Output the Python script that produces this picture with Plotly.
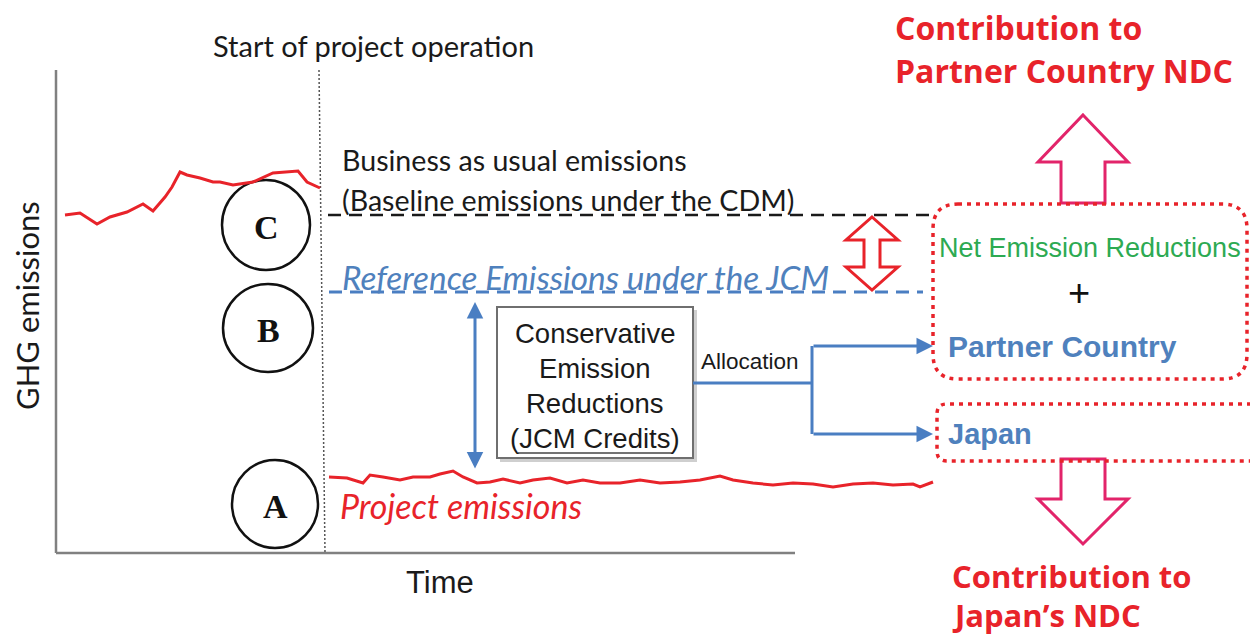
import plotly.graph_objects as go

# ---- data (diagram units = pixels of the 1250x636 canvas) ----
pre_x = [65, 80, 97, 110, 127, 143, 153, 165, 172, 180, 187, 200, 213, 220, 233, 253, 273, 298, 307, 320]
pre_y = [215, 213, 224, 217, 212, 204, 211, 197, 187, 172, 175, 178, 182, 182, 185, 182, 173, 171, 182, 188]

proj_x = [329, 347, 363, 370, 383, 400, 413, 430, 440, 453, 463, 477, 490, 503, 520, 533, 550, 567, 583, 600,
          620, 640, 660, 680, 700, 720, 733, 753, 773, 793, 813, 833, 853, 873, 893, 913, 920, 933]
proj_y = [477, 478, 483, 475, 477, 480, 477, 477, 474, 471, 477, 483, 482, 479, 483, 480, 478, 483, 480, 483,
          483, 480, 483, 482, 480, 476, 480, 483, 485, 483, 484, 487, 484, 483, 485, 484, 487, 482]

baseline_level = 215
reference_level = 292

box_lines = ["Conservative", "Emission", "Reductions", "(JCM Credits)"]
circle_labels = ["C", "B", "A"]

RED = "#E8232A"
BLUE = "#4A7EC2"
BLUE_TXT = "#4F81BD"
GREEN = "#2DAA52"
MAGENTA = "#E2246A"
AXIS_GRAY = "#808080"

CALIBRI = "Lato"
ARIAL = "Liberation Sans"

fig = go.Figure()

fig.add_trace(go.Scatter(x=pre_x, y=pre_y, mode="lines", line=dict(color=RED, width=3), hoverinfo="skip"))
fig.add_trace(go.Scatter(x=proj_x, y=proj_y, mode="lines", line=dict(color=RED, width=3), hoverinfo="skip"))

shapes = []
# axes
shapes.append(dict(type="line", x0=56, y0=70, x1=56, y1=553, line=dict(color=AXIS_GRAY, width=2.5), layer="below"))
shapes.append(dict(type="line", x0=56, y0=553, x1=795, y1=553, line=dict(color=AXIS_GRAY, width=2.5), layer="below"))
# start of operation
shapes.append(dict(type="line", x0=319, y0=70, x1=325, y1=553, line=dict(color="#555555", width=1.5, dash="2px,2px"), layer="below"))
# baseline and reference levels
shapes.append(dict(type="line", x0=328, y0=baseline_level, x1=933, y1=baseline_level,
                   line=dict(color="#1a1a1a", width=2.5, dash="13px,8px"), layer="below"))
shapes.append(dict(type="line", x0=329, y0=reference_level, x1=923, y1=reference_level,
                   line=dict(color=BLUE, width=3, dash="13px,8px"), layer="below"))
# circles
circ = [(266, 225, 44, 45), (268, 328, 45, 44), (275, 504, 43, 44)]
for cx, cy, rx, ry in circ:
    shapes.append(dict(type="circle", x0=cx - rx, x1=cx + rx, y0=cy - ry, y1=cy + ry,
                       line=dict(color="#111111", width=2.5), fillcolor="white", layer="below"))
# JCM credits box (with faint shadow)
shapes.append(dict(type="rect", x0=500, y0=310, x1=697, y1=462, line=dict(width=0), fillcolor="#cfcfcf", layer="below"))
shapes.append(dict(type="rect", x0=497, y0=307, x1=693, y1=458, line=dict(color="#6f6f6f", width=2), fillcolor="white", layer="below"))
# allocation connector
shapes.append(dict(type="line", x0=693, y0=383, x1=812, y1=383, line=dict(color=BLUE, width=3)))
shapes.append(dict(type="line", x0=812, y0=346, x1=812, y1=434, line=dict(color=BLUE, width=3)))
# underline of (JCM Credits)
shapes.append(dict(type="line", x0=518, y0=453, x1=672, y1=453, line=dict(color="#444444", width=1.5)))
# red hollow double arrow
cx = 872
shapes.append(dict(type="path",
                   path=f"M {cx},217 L {cx+26},240 L {cx+8},240 L {cx+8},267 L {cx+26},267 L {cx},290 "
                        f"L {cx-26},267 L {cx-8},267 L {cx-8},240 L {cx-26},240 Z",
                   line=dict(color=RED, width=3), fillcolor="white"))
# magenta up arrow
ux = 1083
shapes.append(dict(type="path",
                   path=f"M {ux},115 L {ux+45},162 L {ux+22},162 L {ux+22},203 L {ux-22},203 L {ux-22},162 L {ux-45},162 Z",
                   line=dict(color=MAGENTA, width=3), fillcolor="white"))
# magenta down arrow
shapes.append(dict(type="path",
                   path=f"M {ux-22},459 L {ux+22},459 L {ux+22},499 L {ux+45},499 L {ux},544 L {ux-45},499 L {ux-22},499 Z",
                   line=dict(color=MAGENTA, width=3), fillcolor="white"))
# red dotted boxes
shapes.append(dict(type="path",
                   path="M 958,204 L 1222,204 Q 1247,204 1247,229 L 1247,354 Q 1247,379 1222,379 "
                        "L 958,379 Q 933,379 933,354 L 933,229 Q 933,204 958,204 Z",
                   line=dict(color=RED, width=3.5, dash="4px,5px")))
shapes.append(dict(type="path",
                   path="M 1260,404 L 947,404 Q 937,404 937,414 L 937,451 Q 937,461 947,461 L 1260,461",
                   line=dict(color=RED, width=3.5, dash="4px,5px")))

ann = []
def txt(text, x, y, size, color="#1a1a1a", family=CALIBRI, xanchor="left", angle=0):
    ann.append(dict(text=text, x=x, y=y, xref="x", yref="y", showarrow=False, xanchor=xanchor, yanchor="middle",
                    textangle=angle, font=dict(family=family, size=size, color=color)))

txt("Start of project operation", 211, 45, 29)
txt("GHG emissions", 27, 306, 31, angle=-90, xanchor="center")
txt("Business as usual emissions", 340, 160, 28.6)
txt("(Baseline emissions under the CDM)", 340, 200, 28.6)
txt("<i>Reference Emissions under the JCM</i>", 340, 277, 33.3, color=BLUE_TXT)
txt("<i>Project emissions</i>", 338, 505, 34, color=RED)
txt("Time", 440, 582, 31, family=ARIAL, xanchor="center")
for i, line in enumerate(box_lines):
    txt(line, 595, 333 + 35 * i, 27.5, family=ARIAL, xanchor="center")
txt("Allocation", 750, 361, 22.5, family=ARIAL, xanchor="center")
txt("Net Emission Reductions", 937, 248, 27, color=GREEN, family=ARIAL)
txt("+", 1079, 293, 38, color="#111111", family=ARIAL, xanchor="center")
txt("<b>Partner Country</b>", 946, 346, 30, color=BLUE_TXT, family=ARIAL)
txt("<b>Japan</b>", 946, 434, 29, color=BLUE_TXT, family=ARIAL)
txt("<b>Contribution to</b>", 893, 27, 32, color=RED, family="Open Sans")
txt("<b>Partner Country NDC</b>", 893, 70, 32, color=RED, family="Open Sans")
txt("<b>Contribution to</b>", 950, 576, 31, color=RED, family="Open Sans")
txt("<b>Japan\u2019s NDC</b>", 950, 615, 31, color=RED, family="Open Sans")
for (cx_, cy_, _, _), lab in zip(circ, circle_labels):
    txt(f"<b>{lab}</b>", cx_, cy_ + 2, 34, color="#111111", family="Liberation Serif", xanchor="center")

def arrow(x, y, ax, ay, both=False):
    ann.append(dict(x=x, y=y, ax=ax, ay=ay, xref="x", yref="y", axref="x", ayref="y", text="",
                    showarrow=True, arrowhead=2, arrowsize=1.1, arrowwidth=3, arrowcolor=BLUE,
                    arrowside="end+start" if both else "end", standoff=0, startstandoff=0))

arrow(475, 302, 475, 470, both=True)
arrow(933, 346, 812, 346)
arrow(933, 434, 812, 434)

fig.update_layout(
    width=1250, height=636, margin=dict(l=0, r=0, t=0, b=0),
    paper_bgcolor="white", plot_bgcolor="white", showlegend=False,
    xaxis=dict(range=[0, 1250], visible=False, fixedrange=True),
    yaxis=dict(range=[636, 0], visible=False, fixedrange=True),
    shapes=shapes, annotations=ann,
)

fig.write_html("out.html", config={"displayModeBar": False})

# remove the browser's default body margin so the figure sits at the page origin
with open("out.html", "r", encoding="utf-8") as f:
    html = f.read()
html = html.replace("<head>", "<head><style>html,body{margin:0;padding:0;overflow:hidden;}</style>", 1)
with open("out.html", "w", encoding="utf-8") as f:
    f.write(html)
